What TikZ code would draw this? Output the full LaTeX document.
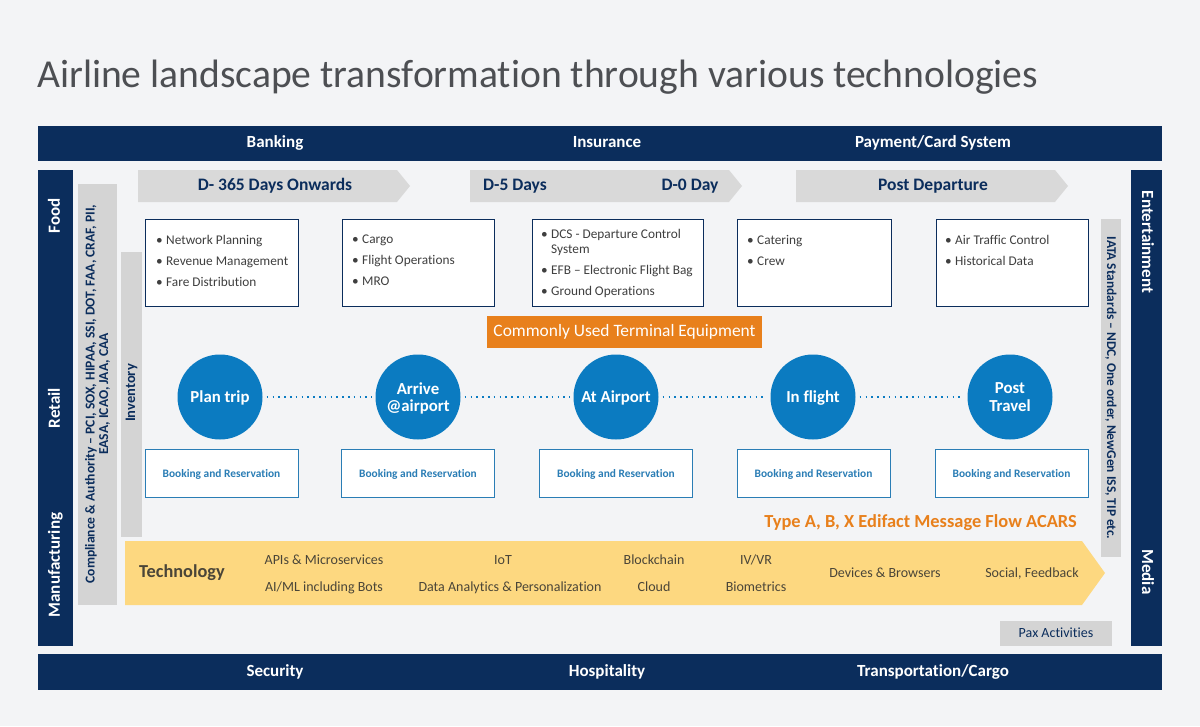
\documentclass[tikz,border=0pt]{standalone}
\usepackage{fontspec}
\setmainfont{Carlito}[Ligatures=NoCommon]
\usetikzlibrary{positioning}
\definecolor{bgcol}{HTML}{F3F4F6}
\definecolor{navy}{HTML}{0B2D5C}
\definecolor{lightgrey}{HTML}{D9D9D9}
\definecolor{bargrey}{HTML}{D4D4D4}
\definecolor{stageblue}{HTML}{0B7BC1}
\definecolor{bookblue}{HTML}{2A7DB5}
\definecolor{orangeband}{HTML}{E8801C}
\definecolor{techyellow}{HTML}{FDD880}
\definecolor{titlegrey}{HTML}{4D4F53}
\definecolor{textgrey}{HTML}{3F3F3F}
\definecolor{techtext}{HTML}{4A4538}
\newcommand{\fsz}[1]{\fontsize{#1}{1.2\dimexpr#1pt\relax}\selectfont}
\newcommand{\bitem}[1]{\makebox[10pt][l]{\textbullet}#1}
\begin{document}
\begin{tikzpicture}[x=1pt,y=-1pt,
  every node/.style={inner sep=0pt,font=\fsz{12.5}},
  oneline/.style={text height=.88em,text depth=0pt},
  bartext/.style={oneline,text=white,font=\bfseries\fsz{17}},
  sidetext/.style={oneline,text=white,font=\bfseries\fsz{17}},
  stagetext/.style={oneline,text=navy,font=\bfseries\fsz{17.5}},
  infobox/.style={draw=navy,line width=1pt,fill=white,anchor=north west,minimum height=87pt},
  listtext/.style={text=textgrey,align=left,anchor=north west,font=\fsz{13.3}},
  stagecircle/.style={circle,fill=stageblue,minimum size=85pt,text=white,align=center,font=\bfseries\fsz{16.8},text depth=0pt},
  bookbox/.style={oneline,draw=bookblue,line width=1pt,fill=white,minimum width=153pt,minimum height=48pt,text=bookblue,font=\bfseries\fsz{11.4}},
  techitem/.style={oneline,text=techtext,font=\fsz{14}}]
  \path[use as bounding box,fill=bgcol] (0,0) rectangle (1200,726);
  % title
  \node[anchor=base west,text=titlegrey,font=\fsz{39.6}] (title) at (37,87) {Airline landscape transformation through various technologies};
  % top and bottom bands
  \fill[navy] (38,126) rectangle (1162,161);
  \fill[navy] (38,654) rectangle (1162,690);
  \foreach \x/\t/\n in {275/Banking/bank,607/Insurance/insur,933/{Payment/Card System}/pay}
    \node[bartext] (\n) at (\x,143) {\t};
  \foreach \x/\t/\n in {275/Security/secur,607/Hospitality/hosp,933/{Transportation/Cargo}/cargo}
    \node[bartext] (\n) at (\x,672) {\t};
  % side bands
  \fill[navy] (38,170) rectangle (73,646);
  \fill[navy] (1131,170) rectangle (1162,646);
  \foreach \y/\t/\n in {216/Food/food,408/Retail/retail,565/Manufacturing/manuf}
    \node[sidetext,rotate=90] (\n) at (55.5,\y) {\t};
  \foreach \y/\t/\n in {242/Entertainment/enter,572/Media/media}
    \node[sidetext,rotate=-90] (\n) at (1146.5,\y) {\t};
  % grey side strips
  \fill[bargrey] (78,184) rectangle (117,605);
  \fill[bargrey] (121,252) rectangle (142,537);
  \fill[bargrey] (1101,219) rectangle (1121,557);
  \node[rotate=90,align=center,text=navy,font=\bfseries\fsz{13.6}] (compl) at (97.5,394)
    {Compliance \& Authority -- PCI, SOX, HIPAA, SSI, DOT, FAA, CRAF, PII,\\[-3pt] EASA, ICAO, JAA, CAA};
  \node[rotate=90,text=navy,font=\bfseries\fsz{14.5}] (invent) at (131.5,393) {Inventory};
  \node[rotate=-90,text=navy,font=\bfseries\fsz{13.4}] (iata) at (1111,388) {IATA Standards -- NDC, One order, NewGen ISS, TIP etc.};
  % stage chevrons
  \foreach \x in {138,470,796}
    \fill[lightgrey] (\x,170) -- ++(259,0) -- ++(13,16) -- ++(-13,16) -- ++(-259,0) -- cycle;
  \node[stagetext] (d365) at (275,186) {D- 365 Days Onwards};
  \node[stagetext] (d5) at (515,186) {D-5 Days};
  \node[stagetext] (d0) at (690,186) {D-0 Day};
  \node[stagetext] (postdep) at (933,186) {Post Departure};
  % activity boxes
  \node[infobox,minimum width=153pt] (plan) at (145,219) {};
  \node[infobox,minimum width=152pt] (ops) at (342,219) {};
  \node[infobox,minimum width=171pt] (dep) at (532,219) {};
  \node[infobox,minimum width=154pt] (fly) at (737,219) {};
  \node[infobox,minimum width=152pt] (post) at (936,219) {};
  \node[listtext] at ([xshift=11pt,yshift=-16pt]plan.north west)
    {\bitem{Network Planning}\\[5pt]\bitem{Revenue Management}\\[5pt]\bitem{Fare Distribution}};
  \node[listtext] at ([xshift=10pt,yshift=-16pt]ops.north west)
    {\bitem{Cargo}\\[5pt]\bitem{Flight Operations}\\[5pt]\bitem{MRO}};
  \node[listtext] at ([xshift=9pt,yshift=-10pt]dep.north west)
    {\bitem{DCS - Departure Control}\\[-1pt]\hspace*{10pt}System\\[5pt]\bitem{EFB -- Electronic Flight Bag}\\[5pt]\bitem{Ground Operations}};
  \node[listtext] at ([xshift=10pt,yshift=-16pt]fly.north west)
    {\bitem{Catering}\\[5pt]\bitem{Crew}};
  \node[listtext] at ([xshift=9pt,yshift=-16pt]post.north west)
    {\bitem{Air Traffic Control}\\[5pt]\bitem{Historical Data}};
  % terminal equipment band
  \node[oneline,fill=orangeband,minimum width=275pt,minimum height=32pt,text=white,font=\fsz{17.4}] (cute) at (624.5,332) {Commonly Used Terminal Equipment};
  % journey
  \foreach \n/\x/\t in {c1/220/{Plan trip},c2/418/{Arrive\\[-3pt]@airport},c3/616/{At Airport},c4/813/{In flight},c5/1010/{Post\\[-3pt]Travel}}
    \node[stagecircle] (\n) at (\x,397) {\t};
  \foreach \a/\b in {c1/c2,c2/c3,c3/c4,c4/c5}
    \draw[stageblue,line width=1.7pt,dash pattern=on 1.7pt off 4.1pt] ([xshift=4pt]\a.east) -- ([xshift=-4pt]\b.west);
  \foreach \n/\x in {b1/221.5,b2/418,b3/616,b4/813.5,b5/1011.5}
    \node[bookbox] (\n) at (\x,473) {Booking and Reservation};
  % message flow
  \node[oneline,anchor=east,text=orangeband,font=\bfseries\fsz{18.4}] (msg) at (1077,523) {Type A, B, X Edifact Message Flow ACARS};
  % technology arrow
  \fill[techyellow] (125,541) -- (1082,541) -- (1105,573) -- (1082,605) -- (125,605) -- cycle;
  \node[oneline,text=techtext,font=\bfseries\fsz{18.3}] (tech) at (182,573) {Technology};
  \node[techitem] (api) at (324,560) {APIs \& Microservices};
  \node[techitem] (aiml) at (324,587) {AI/ML including Bots};
  \node[techitem] (iot) at (503,560) {IoT};
  \node[techitem] (data) at (510,587) {Data Analytics \& Personalization};
  \node[techitem] (block) at (654,560) {Blockchain};
  \node[techitem] (cloud) at (654,587) {Cloud};
  \node[techitem] (ivvr) at (756,560) {IV/VR};
  \node[techitem] (bio) at (756,587) {Biometrics};
  \node[techitem] (dev) at (885,573) {Devices \& Browsers};
  \node[techitem] (social) at (1032,573) {Social, Feedback};
  % pax
  \node[oneline,fill=bargrey,minimum width=112pt,minimum height=25pt,text=navy,font=\fsz{14}] (pax) at (1056,633.5) {Pax Activities};
\end{tikzpicture}
\end{document}
